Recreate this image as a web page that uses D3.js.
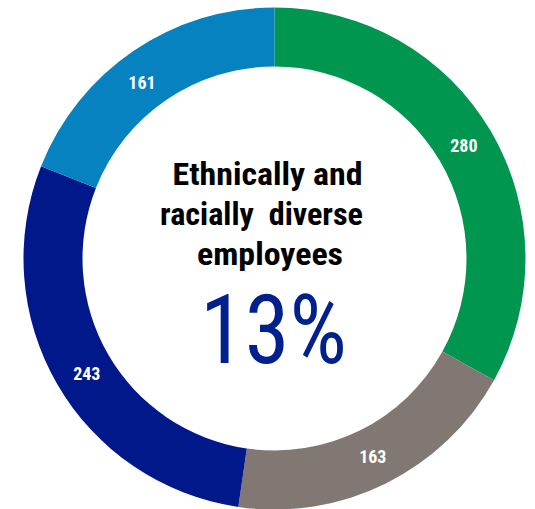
<!DOCTYPE html>
<html>
<head>
    <meta charset="utf-8">
    <title>Ethnically and racially diverse employees</title>
    <script src="https://d3js.org/d3.v7.min.js"></script>
    <style>
        body { margin: 0; background: #fff; }
        svg { display: block; }
    </style>
</head>
<body>
    <div id="chart"></div>
    <script>
        // segment values, clockwise from the top
        var categories = ["green", "grey", "navy", "blue"];
        var values = [280, 163, 243, 161];
        var colors = ["#00964f", "#827873", "#00188a", "#0782c0"];

        // centre text
        var titleLines = ["Ethnically and", "racially  diverse", "employees"];
        var bigLabel = "13%";

        var width = 535, height = 509;
        var cx = 274.5, cy = 258.5;
        var outerR = 251, innerR = 192;
        var narrow = "'Liberation Sans Narrow', 'Arial Narrow', 'Roboto Condensed', Arial, sans-serif";

        // small label nudges away from the exact centroid
        var labelNudge = [[-1.5, 0], [0, 0], [4, 4], [-8, 7]];

        var svg = d3.select("#chart")
            .append("svg")
            .attr("width", width)
            .attr("height", height);

        var g = svg.append("g")
            .attr("transform", "translate(" + cx + "," + cy + ")");

        var pie = d3.pie().sort(null).value(function (d) { return d; });
        var arc = d3.arc().innerRadius(innerR).outerRadius(outerR);
        var arcs = pie(values);

        // ring segments
        g.selectAll(".slice")
            .data(arcs)
            .enter()
            .append("path")
            .attr("class", "slice")
            .attr("d", arc)
            .attr("fill", function (d, i) { return colors[i]; });

        // value labels
        g.selectAll(".val")
            .data(arcs)
            .enter()
            .append("text")
            .attr("class", "val")
            .attr("transform", function (d, i) {
                var c = arc.centroid(d);
                return "translate(" + (c[0] + labelNudge[i][0]) + "," + (c[1] + labelNudge[i][1]) + ")";
            })
            .attr("text-anchor", "middle")
            .attr("dy", "0.35em")
            .style("font-family", narrow)
            .style("font-weight", "bold")
            .style("font-size", "18px")
            .attr("fill", "#fff")
            .text(function (d) { return d.data; });

        // centre title, each line placed and fitted to its measured span
        var lineBox = [
            { x: 172.5, y: 185, w: 190 },
            { x: 160, y: 225, w: 203 },
            { x: 197, y: 265, w: 146 }
        ];
        svg.selectAll(".title")
            .data(titleLines)
            .enter()
            .append("text")
            .attr("class", "title")
            .attr("x", function (d, i) { return lineBox[i].x; })
            .attr("y", function (d, i) { return lineBox[i].y; })
            .attr("textLength", function (d, i) { return lineBox[i].w; })
            .attr("lengthAdjust", "spacingAndGlyphs")
            .style("font-family", narrow)
            .style("font-weight", "bold")
            .style("font-size", "31px")
            .style("white-space", "pre")
            .attr("fill", "#000")
            .text(function (d) { return d; });

        svg.append("text")
            .attr("x", 200)
            .attr("y", 362.5)
            .attr("textLength", 147)
            .attr("lengthAdjust", "spacingAndGlyphs")
            .style("font-family", narrow)
            .style("font-size", "96px")
            .attr("fill", "#00208f")
            .text(bigLabel);
    </script>
</body>
</html>
